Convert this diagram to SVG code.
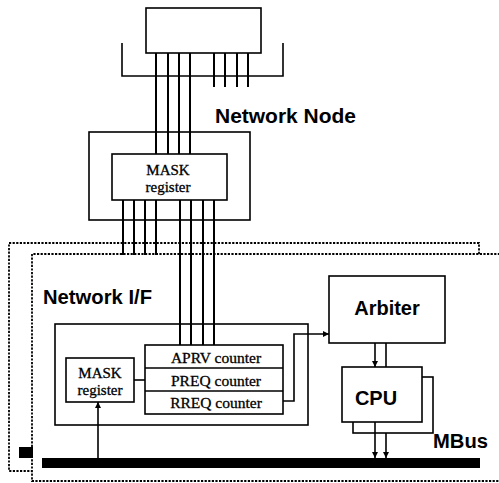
<svg xmlns="http://www.w3.org/2000/svg" width="499" height="483" viewBox="0 0 499 483">
  <defs>
    <marker id="arrow" viewBox="0 0 10 10" refX="10" refY="5" markerWidth="9" markerHeight="6" markerUnits="userSpaceOnUse" orient="auto">
      <path d="M0,0 L10,5 L0,10 z" fill="#000"/>
    </marker>
    <style>
      .box { fill: #fff; stroke: #000; stroke-width: 1.6; }
      .open { fill: none; stroke: #000; stroke-width: 1.6; }
      .wire { fill: none; stroke: #000; stroke-width: 2; }
      .link { fill: none; stroke: #000; stroke-width: 1.6; }
      .dots { fill: none; stroke: #000; stroke-width: 1.8; stroke-dasharray: 2.2 1.4; }
      .serif { font-family: "Liberation Serif", "Times New Roman", serif; font-size: 15.5px; fill: #000; stroke: #000; stroke-width: 0.3; }
      .small { font-size: 15px; }
      .title { font-family: "Liberation Sans", Arial, sans-serif; font-weight: bold; font-size: 20px; fill: #000; }
    </style>
  </defs>
  <rect width="499" height="483" fill="#fff"/>

  <!-- stacked interface cards (dotted outlines) -->
  <g id="interface-cards">
    <path class="dots" d="M479,254 V243 H9 V471 H32"/>
    <path class="dots" d="M500,254 H32 V481 H500"/>
    <rect x="19" y="447" width="14" height="11" fill="#000"/>
  </g>

  <!-- network port at the top -->
  <g id="port">
    <path class="open" d="M122,43 V76 H283 V43"/>
    <rect class="box" x="146" y="8" width="115" height="45"/>
  </g>

  <!-- network node -->
  <g id="network-node">
    <rect class="box" x="89" y="132" width="161" height="88"/>
    <text class="title" x="215" y="123" textLength="141" lengthAdjust="spacingAndGlyphs">Network Node</text>
  </g>

  <!-- network interface -->
  <g id="network-if">
    <rect class="box" x="55" y="324" width="253" height="101"/>
    <text class="title" x="43" y="304" textLength="109" lengthAdjust="spacingAndGlyphs">Network I/F</text>
  </g>

  <g id="arbiter">
    <rect class="box" x="329" y="276" width="116" height="67"/>
    <text class="title" x="387" y="315" text-anchor="middle">Arbiter</text>
  </g>

  <g id="cpu">
    <rect class="box" x="353" y="377" width="80" height="56"/>
    <rect class="box" x="342" y="367" width="80" height="55"/>
    <text class="title" x="376" y="405" text-anchor="middle">CPU</text>
  </g>

  <g id="mbus">
    <rect x="42" y="458" width="438" height="10" fill="#000"/>
    <text class="title" x="433" y="448" textLength="55" lengthAdjust="spacingAndGlyphs">MBus</text>
  </g>

  <!-- connectors -->
  <g id="connectors">
    <!-- port lines into the node mask -->
    <path class="wire" d="M156,53 V154 M168,53 V154 M179,53 V154 M190,53 V154"/>
    <path class="wire" d="M214,53 V87 M225,53 V87 M237,53 V87 M248,53 V87"/>
    <!-- node mask outputs -->
    <path class="wire" d="M123,200 V255 M134,200 V255 M145,200 V255 M156,200 V255"/>
    <path class="wire" d="M180,200 V345 M191,200 V345 M203,200 V345 M214,200 V345"/>
    <!-- mask register to counters -->
    <path class="link" d="M134,380 H145"/>
    <!-- counters to arbiter -->
    <path class="link" d="M283,401 H294 V334 H329" marker-end="url(#arrow)"/>
    <!-- arbiter to cpu -->
    <path class="link" d="M375,343 V367" marker-end="url(#arrow)"/>
    <path class="link" d="M386,343 V367"/>
    <!-- cpu to bus -->
    <path class="link" d="M375,422 V458" marker-end="url(#arrow)"/>
    <path class="link" d="M386,433 V458" marker-end="url(#arrow)"/>
    <!-- bus to interface mask -->
    <path class="link" d="M98,458 V402" marker-end="url(#arrow)"/>
  </g>

  <!-- mask register inside the node -->
  <g id="node-mask">
    <rect class="box" x="112" y="154" width="115" height="46"/>
    <text class="serif small" x="168" y="175" text-anchor="middle">MASK</text>
    <text class="serif small" x="168" y="192" text-anchor="middle">register</text>
  </g>

  <!-- mask register inside the interface -->
  <g id="if-mask">
    <rect class="box" x="66" y="358" width="68" height="44"/>
    <text class="serif small" x="100" y="378" text-anchor="middle">MASK</text>
    <text class="serif small" x="100" y="395" text-anchor="middle">register</text>
  </g>

  <g id="counters">
    <rect class="box" x="145" y="345" width="138" height="69"/>
    <path class="link" d="M145,368 H283 M145,391 H283"/>
    <text class="serif" x="216" y="363" text-anchor="middle">APRV counter</text>
    <text class="serif" x="216" y="386" text-anchor="middle">PREQ counter</text>
    <text class="serif" x="216" y="408" text-anchor="middle">RREQ counter</text>
  </g>
</svg>
